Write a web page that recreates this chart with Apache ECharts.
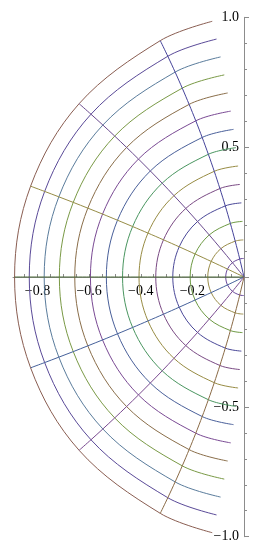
<!DOCTYPE html>
<html><head><meta charset="utf-8">
<script src="https://cdn.jsdelivr.net/npm/echarts@6/dist/echarts.min.js"></script>
<style>html,body{margin:0;padding:0;background:#fff}#c{width:261px;height:550px}</style>
</head><body><div id="c"></div>
<script>
// Arc levels (14 arcs, r = k/14), read from the spacing of arc end points
const arcLevels = ['1/14','2/14','3/14','4/14','5/14','6/14','7/14','8/14','9/14','10/14','11/14','12/14','13/14','14/14'];

// Grid nodes: where each arc meets each mesh line
// (mesh lines at angles 90, 102.9, 128.6, 154.3, 180, 205.7, 231.4, 257.1, 270 deg)
const x090 = [-0.0006,-0.0026,-0.0057,-0.0102,-0.0159,-0.0229,-0.0311,-0.0406,-0.0513,-0.0633,-0.0764,-0.0908,-0.1064,-0.1231];
const y090 = [0.0714,0.1428,0.2141,0.2854,0.3564,0.4273,0.4981,0.5685,0.6387,0.7086,0.7782,0.8474,0.9162,0.9846];
const x103 = [-0.0165,-0.0341,-0.0528,-0.0725,-0.0934,-0.1152,-0.1381,-0.1620,-0.1868,-0.2126,-0.2392,-0.2668,-0.2952,-0.3244];
const y103 = [0.0694,0.1381,0.2063,0.2738,0.3407,0.4070,0.4725,0.5373,0.6014,0.6647,0.7272,0.7890,0.8499,0.9101];
const x129 = [-0.0447,-0.0896,-0.1347,-0.1801,-0.2256,-0.2713,-0.3170,-0.3629,-0.4089,-0.4549,-0.5009,-0.5469,-0.5929,-0.6389];
const y129 = [0.0552,0.1092,0.1620,0.2136,0.2640,0.3132,0.3613,0.4083,0.4542,0.4989,0.5426,0.5852,0.6268,0.6674];
const x154 = [-0.0640,-0.1271,-0.1895,-0.2511,-0.3120,-0.3721,-0.4315,-0.4901,-0.5480,-0.6051,-0.6616,-0.7174,-0.7724,-0.8268];
const y154 = [0.0305,0.0600,0.0886,0.1163,0.1432,0.1691,0.1943,0.2187,0.2423,0.2651,0.2873,0.3087,0.3295,0.3497];
const x180 = [-0.0708,-0.1404,-0.2087,-0.2759,-0.3419,-0.4068,-0.4706,-0.5333,-0.5950,-0.6557,-0.7154,-0.7742,-0.8320,-0.8889];
const y180 = [0,0,0,0,0,0,0,0,0,0,0,0,0,0];
const y206 = [-0.0305,-0.0600,-0.0886,-0.1163,-0.1432,-0.1691,-0.1943,-0.2187,-0.2423,-0.2651,-0.2873,-0.3087,-0.3295,-0.3497];
const y231 = [-0.0552,-0.1092,-0.1620,-0.2136,-0.2640,-0.3132,-0.3613,-0.4083,-0.4542,-0.4989,-0.5426,-0.5852,-0.6268,-0.6674];
const y257 = [-0.0694,-0.1381,-0.2063,-0.2738,-0.3407,-0.4070,-0.4725,-0.5373,-0.6014,-0.6647,-0.7272,-0.7890,-0.8499,-0.9101];
const y270 = [-0.0714,-0.1428,-0.2141,-0.2854,-0.3564,-0.4273,-0.4981,-0.5685,-0.6387,-0.7086,-0.7782,-0.8474,-0.9162,-0.9846];

// Tick values
const xTickLabels = [-0.8,-0.6,-0.4,-0.2];
const xTicks = [-0.85,-0.8,-0.75,-0.7,-0.65,-0.6,-0.55,-0.5,-0.45,-0.4,-0.35,-0.3,-0.25,-0.2,-0.15,-0.1,-0.05];
const yTickLabels = [-1,-0.5,0.5,1];

// Colours
const arcColors = ['#6a4a9c','#9a8c48','#6e9a44','#4a4898','#7a4a84','#988c44','#4a9660','#4a609a','#7a4a94','#8a6e4a','#7a9a46','#5a7c9c','#5a4a98','#8a5e52'];
const radialColors = ['#45439a','#6a4a8e','#968c45','#4d6b3a','#45609a','#7a4a90','#8a6a45'];

const meshX = [x090,x103,x129,x154,x180,x154,x129,x103,x090];
const meshY = [y090,y103,y129,y154,y180,y206,y231,y257,y270];

const fmt = v => (v < 0 ? '\u2212' : '') + Math.abs(v).toFixed(1);
const font = {fontFamily:'Liberation Serif', fontSize:14, color:'#000'};
const axisGray = '#8c8c8c';

const W = 261, H = 550;
const gridTop = 17.3, gridBottom = 13.3;
// pixel distance from the grid bottom up to y = 0 (range -1..1 is symmetric)
const zeroOffset = -(H - gridTop - gridBottom) / 2;

const series = [];
arcLevels.forEach((name, k) => {
  series.push({
    type:'line', name:'r=' + name, showSymbol:false, smooth:0.35, silent:true,
    lineStyle:{color:arcColors[k], width:1}, z:2, clip:false,
    data: meshX.map((xs, j) => [xs[k], meshY[j][k]])
  });
});
for (let j = 1; j <= 7; j++) {
  series.push({
    type:'line', name:'mesh' + j, showSymbol:false, smooth:0.3, silent:true,
    lineStyle:{color:radialColors[j-1], width:1}, z:3, clip:false,
    data: [[0,0]].concat(arcLevels.map((_, k) => [meshX[j][k], meshY[j][k]]))
  });
}

const chart = echarts.init(document.getElementById('c'), null, {renderer:'canvas'});
chart.setOption({
  animation:false,
  backgroundColor:'#fff',
  grid:{left:13, right:17, top:gridTop, bottom:gridBottom, containLabel:false, outerBoundsMode:'none'},
  xAxis:{
    type:'value', min:-0.895, max:0, position:'bottom', offset:zeroOffset,
    axisLine:{show:true, onZero:false, lineStyle:{color:axisGray, width:1}},
    axisTick:{show:true, inside:true, length:3, customValues:xTicks, lineStyle:{color:axisGray}},
    axisLabel:Object.assign({show:true, customValues:xTickLabels, formatter:fmt, margin:7}, font),
    splitLine:{show:false}
  },
  yAxis:{
    type:'value', min:-1, max:1, interval:0.5, position:'right',
    axisLine:{show:true, onZero:false, lineStyle:{color:axisGray, width:1}},
    axisTick:{show:true, inside:false, length:5, lineStyle:{color:axisGray}},
    minorTick:{show:true, splitNumber:5, length:3, lineStyle:{color:axisGray}},
    axisLabel:Object.assign({show:true, inside:true, customValues:yTickLabels, formatter:fmt, margin:5}, font),
    splitLine:{show:false}, minorSplitLine:{show:false}
  },
  series: series
});
</script></body></html>
